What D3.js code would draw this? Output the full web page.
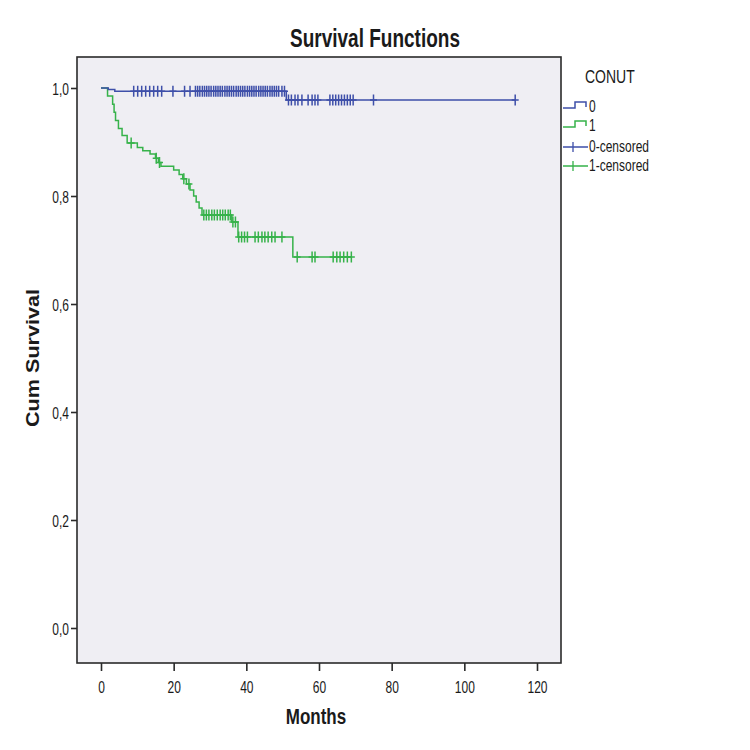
<!DOCTYPE html>
<html>
<head>
<meta charset="utf-8">
<script src="https://cdn.jsdelivr.net/npm/d3@7"></script>
<style>
  html, body { margin: 0; padding: 0; background: #ffffff; }
  svg { display: block; }
  text { font-family: "Liberation Sans", Arial, sans-serif; fill: #1a1a1a; }
</style>
</head>
<body>
<svg id="chart" width="750" height="750"></svg>
<script>
// ---------------- data ----------------
const chartTitle = "Survival Functions";
const xLabel = "Months";
const yLabel = "Cum Survival";
const legendTitle = "CONUT";
const legendLabels = ["0", "1", "0-censored", "1-censored"];

const xTicks = [0, 20, 40, 60, 80, 100, 120];
const yTicks = [0.0, 0.2, 0.4, 0.6, 0.8, 1.0];

// group 0 (CONUT = 0)
const blueEventTimes = [0, 2.0, 3.8, 51.0];
const blueSurvival   = [1.0, 0.997, 0.994, 0.978];
const blueEndTime = 114;
const blueCensored = [9.0, 10.1, 11.2, 12.3, 13.4, 14.5, 15.6, 16.7, 19.8, 23.0, 24.5,
  26.0, 26.6, 27.2, 27.9, 28.5, 29.1, 29.7, 30.3, 31.0, 31.6, 32.2, 32.8, 33.4, 34.1,
  34.7, 35.3, 35.9, 36.5, 37.2, 37.8, 38.4, 39.0, 39.6, 40.3, 40.9, 41.5, 42.1, 42.7,
  43.4, 44.0, 44.6, 45.2, 45.8, 46.5, 47.1, 47.7, 48.3, 48.9, 49.8, 50.5,
  51.6, 52.4, 53.4, 54.2, 55.3, 57.0, 58.1, 58.9, 59.7,
  63.0, 63.8, 64.6, 65.4, 66.2, 67.0, 67.8, 68.6, 69.4, 75.0, 114.0];

// group 1 (CONUT = 1)
const greenEventTimes = [0, 1.8, 3.2, 3.6, 4.0, 4.8, 5.8, 7.2, 10.0, 11.5, 13.5, 15.0,
  15.8, 16.5, 20.0, 21.5, 22.5, 23.5, 24.5, 25.5, 26.2, 27.0, 27.8, 36.0, 37.7, 52.8];
const greenSurvival = [1.0, 0.985, 0.970, 0.955, 0.940, 0.925, 0.912, 0.898, 0.890, 0.884,
  0.878, 0.870, 0.862, 0.855, 0.848, 0.840, 0.832, 0.822, 0.811, 0.800, 0.789, 0.778,
  0.765, 0.752, 0.724, 0.687];
const greenEndTime = 69;
const greenCensored = [8.3, 15.2, 16.1, 22.8, 24.2, 28.3, 29.0, 29.7, 30.5, 31.2, 32.0,
  32.8, 33.5, 34.2, 35.0, 35.6, 36.3, 37.0, 37.9, 38.7, 39.5, 40.3, 42.4, 43.3, 44.3,
  45.1, 46.0, 47.0, 47.9, 49.8, 54.0, 58.1, 58.9, 63.9, 64.9, 65.8, 66.8, 67.8, 68.9];

// ---------------- layout ----------------
const blue = "#3E4FA9";
const green = "#36B24A";
const frame = { left: 77, right: 561, top: 57, bottom: 663 };
const stretch = 1.35;

const svg = d3.select("#chart");
svg.append("rect").attr("width", 750).attr("height", 750).attr("fill", "#ffffff");

const x = d3.scaleLinear().domain([0, 120]).range([101, 537]);
const y = d3.scaleLinear().domain([0, 1]).range([628, 88]);

// plot background + frame
svg.append("rect")
  .attr("x", frame.left).attr("y", frame.top)
  .attr("width", frame.right - frame.left).attr("height", frame.bottom - frame.top)
  .attr("fill", "#EFEEF3").attr("stroke", "#2a2a2a").attr("stroke-width", 1.6);

// x axis
const gx = svg.append("g").attr("transform", `translate(0,${frame.bottom})`)
  .call(d3.axisBottom(x).tickValues(xTicks).tickSize(8).tickFormat(d3.format("d")));
gx.select(".domain").remove();
gx.selectAll(".tick line").attr("stroke", "#2a2a2a").attr("stroke-width", 1.6);
gx.selectAll(".tick text")
  .attr("y", null).attr("dy", null)
  .attr("transform", `translate(0,29.5) scale(1,${stretch})`)
  .attr("font-size", 12).attr("fill", "#1a1a1a")
  .style("font-family", "'Liberation Sans', Arial, sans-serif");

// y axis
const gy = svg.append("g").attr("transform", `translate(${frame.left},0)`)
  .call(d3.axisLeft(y).tickValues(yTicks).tickSize(6)
    .tickFormat(d => d.toFixed(1).replace(".", ",")));
gy.select(".domain").remove();
gy.selectAll(".tick line").attr("stroke", "#2a2a2a").attr("stroke-width", 1.6);
gy.selectAll(".tick text")
  .attr("x", null).attr("dy", null)
  .attr("transform", `translate(-8,6.3) scale(1,${stretch})`)
  .attr("font-size", 12).attr("fill", "#1a1a1a")
  .style("font-family", "'Liberation Sans', Arial, sans-serif");

// titles
svg.append("text")
  .attr("transform", `translate(375,47) scale(1,1.33)`)
  .attr("text-anchor", "middle").attr("font-size", 19).attr("font-weight", "bold")
  .text(chartTitle);
svg.append("text")
  .attr("transform", `translate(316,724) scale(1,1.25)`)
  .attr("text-anchor", "middle").attr("font-size", 17).attr("font-weight", "bold")
  .text(xLabel);
svg.append("text")
  .attr("transform", `translate(39,358) rotate(-90) scale(1.2,1)`)
  .attr("text-anchor", "middle").attr("font-size", 18).attr("font-weight", "bold")
  .text(yLabel);

// ---------------- curves ----------------
function survAt(times, surv, t) {
  let s = surv[0];
  for (let i = 0; i < times.length; i++) if (t >= times[i]) s = surv[i];
  return s;
}
const line = d3.line().x(d => x(d[0])).y(d => y(d[1])).curve(d3.curveStepAfter);

function drawGroup(times, surv, endTime, censored, color) {
  const pts = times.map((t, i) => [t, surv[i]]);
  pts.push([endTime, surv[surv.length - 1]]);
  svg.append("path").datum(pts).attr("d", line)
    .attr("fill", "none").attr("stroke", color).attr("stroke-width", 1.5);
  svg.append("g").selectAll("path").data(censored).join("path")
    .attr("d", t => {
      const cx = x(t), cy = y(survAt(times, surv, t));
      return `M${cx - 3.5},${cy}H${cx + 3.5}M${cx},${cy - 5.5}V${cy + 5.5}`;
    })
    .attr("fill", "none").attr("stroke", color).attr("stroke-width", 1.5);
}
drawGroup(greenEventTimes, greenSurvival, greenEndTime, greenCensored, green);
drawGroup(blueEventTimes, blueSurvival, blueEndTime, blueCensored, blue);

// ---------------- legend ----------------
const lg = svg.append("g");
lg.append("text").attr("transform", `translate(585,83) scale(1,1.3)`)
  .attr("font-size", 14).text(legendTitle);
const legendColors = [blue, green, blue, green];
const legendBaselines = [112, 131, 152, 171];
legendLabels.forEach((lab, i) => {
  const yb = legendBaselines[i];
  if (i < 2) {
    lg.append("path")
      .attr("d", `M563,${yb - 4}H575V${yb - 10}H586V${yb - 5}`)
      .attr("fill", "none").attr("stroke", legendColors[i]).attr("stroke-width", 1.5);
  } else {
    lg.append("path")
      .attr("d", `M563,${yb - 5}H588M573,${yb - 10}V${yb}`)
      .attr("fill", "none").attr("stroke", legendColors[i]).attr("stroke-width", 1.3);
  }
  lg.append("text").attr("transform", `translate(589,${yb}) scale(1,1.3)`)
    .attr("font-size", 12).text(lab);
});
</script>
</body>
</html>
